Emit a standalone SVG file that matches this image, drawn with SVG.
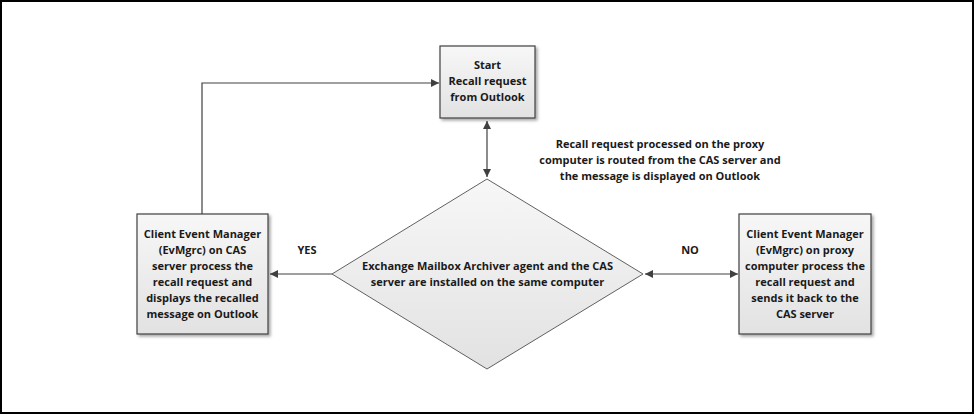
<svg xmlns="http://www.w3.org/2000/svg" width="976" height="416" viewBox="0 0 976 416">
<defs>
<linearGradient id="g" x1="0" y1="0" x2="0" y2="1"><stop offset="0" stop-color="#f7f7f7"/><stop offset="1" stop-color="#e2e2e2"/></linearGradient>
<marker id="a" viewBox="0 0 10 10" refX="10" refY="5" markerWidth="8" markerHeight="8" orient="auto-start-reverse" markerUnits="userSpaceOnUse"><path d="M0,0L10,5L0,10z" fill="#404040"/></marker>
<filter id="s" x="-10%" y="-10%" width="130%" height="130%"><feDropShadow dx="2" dy="2" stdDeviation="1.5" flood-color="#000" flood-opacity="0.35"/></filter>
</defs>
<style>
.n{fill:url(#g);stroke:#404040;stroke-width:1.2;filter:url(#s)}
.d{fill:url(#g);stroke:#606060;stroke-width:1}
.t{font-family:"Open Sans","Liberation Sans",sans-serif;font-weight:bold;font-size:11px;fill:#1a1a1a;text-anchor:middle}
.c{fill:none;stroke:#404040;stroke-width:1.2}
</style>
<rect x="1" y="1" width="972" height="412" fill="#fff" stroke="#000" stroke-width="2"/>
<g id="connectors">
<path class="c" d="M487,121V177" marker-start="url(#a)" marker-end="url(#a)"/>
<path class="c" d="M332,274H270" marker-end="url(#a)"/>
<path class="c" d="M202,214V83H439" marker-end="url(#a)"/>
<path class="c" d="M645,274H738" marker-start="url(#a)" marker-end="url(#a)"/>
</g>
<g id="start"><rect class="n" x="440" y="46" width="95" height="72"/>
<text class="t" x="487.5" y="69">Start</text><text class="t" x="487.5" y="85">Recall request</text><text class="t" x="487.5" y="101">from Outlook</text></g>
<g id="decision"><path class="d" d="M487,179L643,274L487,369L332,274z"/>
<text class="t" x="487.5" y="270">Exchange Mailbox Archiver agent and the CAS</text><text class="t" x="487.5" y="286">server are installed on the same computer</text></g>
<g id="cas"><rect class="n" x="137" y="214" width="131" height="120"/>
<text class="t" x="202.5" y="238">Client Event Manager</text><text class="t" x="202.5" y="254">(EvMgrc) on CAS</text><text class="t" x="202.5" y="270">server process the</text><text class="t" x="202.5" y="286">recall request and</text><text class="t" x="202.5" y="302">displays the recalled</text><text class="t" x="202.5" y="318">message on Outlook</text></g>
<g id="proxy"><rect class="n" x="739" y="214" width="132" height="120"/>
<text class="t" x="805" y="238">Client Event Manager</text><text class="t" x="805" y="254">(EvMgrc) on proxy</text><text class="t" x="805" y="270">computer process the</text><text class="t" x="805" y="286">recall request and</text><text class="t" x="805" y="302">sends it back to the</text><text class="t" x="805" y="318">CAS server</text></g>
<g id="labels">
<text class="t" x="307" y="254">YES</text><text class="t" x="690" y="254">NO</text>
<text class="t" x="660" y="148">Recall request processed on the proxy</text><text class="t" x="660" y="164">computer is routed from the CAS server and</text><text class="t" x="660" y="180">the message is displayed on Outlook</text>
</g>
</svg>
